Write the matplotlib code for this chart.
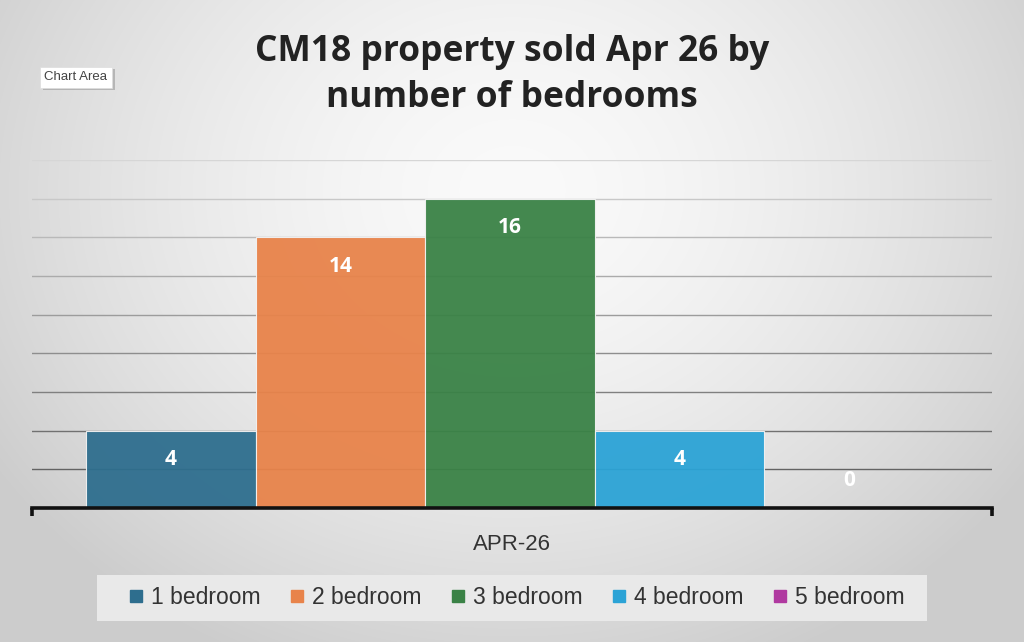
import numpy as np
import matplotlib
matplotlib.use("Agg")
import matplotlib.pyplot as plt
from matplotlib.lines import Line2D
from matplotlib.patches import Rectangle

# ---- data ----
title = "CM18 property sold Apr 26 by\nnumber of bedrooms"
category = "APR-26"
series_names = ["1 bedroom", "2 bedroom", "3 bedroom", "4 bedroom", "5 bedroom"]
series_values = [4, 14, 16, 4, 0]
series_colors = ["#2e6e8e", "#e8834a", "#3a8246", "#2ba3d6", "#b039a0"]

W, H, DPI = 1024, 642, 100
fig = plt.figure(figsize=(W / DPI, H / DPI), dpi=DPI)

# background radial gradient
bg = fig.add_axes([0, 0, 1, 1], zorder=-10)
yy, xx = np.mgrid[0:H, 0:W]
r = np.sqrt(((xx - 512) / 620.0) ** 2 + ((yy - 190) / 520.0) ** 2)
r = np.clip(r, 0, 1)
c0, c1 = 0.98, 0.80
val = c0 - (c0 - c1) * r ** 1.6
bg.imshow(np.dstack([val, val, val]), extent=[0, W, H, 0], aspect="auto")
bg.set_xlim(0, W)
bg.set_ylim(H, 0)
bg.axis("off")

# main axes
left, right, bottom_px, top_px = 32, 992, 508, 160
ax = fig.add_axes([left / W, (H - bottom_px) / H, (right - left) / W, (bottom_px - top_px) / H])
ax.set_facecolor("none")
ax.set_xlim(-0.5, 0.5)
ax.set_ylim(0, 18)

n = len(series_values)
bw = 848 / 5 / 960
for i, (name, v, col) in enumerate(zip(series_names, series_values, series_colors)):
    x = (i - (n - 1) / 2) * bw - 0.002
    ax.bar(x, v, width=bw, color=col, edgecolor="#f2f2f2", linewidth=0.8, zorder=3, alpha=0.95)
    off = -21 if v > 0 else 20
    ax.annotate(str(v), xy=(x, v), xytext=(0, off), textcoords="offset points",
                ha="center", va="center", color="white", fontsize=15, fontweight="bold",
                family="Open Sans", zorder=5)

# grid
ax.set_yticks(np.arange(0, 19, 2))
ax.yaxis.grid(True, linewidth=1.0, zorder=0)
ax.set_axisbelow(True)
ax.tick_params(axis="y", left=False, labelleft=False)
gls = ax.get_ygridlines()
vals = np.arange(0, 19, 2)
for gl, v in zip(gls, vals):
    t = v / 18.0
    g = 0.33 + (0.84 - 0.33) * t
    gl.set_color((g, g, g))

for s in ["left", "right", "top"]:
    ax.spines[s].set_visible(False)
ax.spines["bottom"].set_linewidth(2.6)
ax.spines["bottom"].set_color("#111111")
ax.spines["bottom"].set_zorder(6)

ax.set_xticks([0])
ax.set_xticklabels([category], fontsize=16, color="#333333", family="Liberation Sans")
ax.tick_params(axis="x", which="major", length=0, pad=19)
ax.set_xticks([-0.5, 0.5], minor=True)
ax.tick_params(axis="x", which="minor", length=6, width=2.6, color="#111111", direction="out")

# title
fig.text(0.5, 1 - 75 / H, title, ha="center", va="center", fontsize=25.5, fontweight="bold",
         color="#222222", family="Open Sans", linespacing=1.38)

# legend background + legend
fig.patches.append(Rectangle((97 / W, (H - 621) / H), 830 / W, 46 / H, transform=fig.transFigure,
                             facecolor="#e9e9e9", edgecolor="none", zorder=1))
handles = [Line2D([], [], marker="s", linestyle="none", markersize=9, color=c) for c in series_colors]
leg = fig.legend(handles, series_names, loc="center", bbox_to_anchor=(517 / W, (H - 598) / H),
                 ncol=5, frameon=False, prop={"family": "Liberation Sans", "size": 16.5},
                 handlelength=0.6, handletextpad=0.35, columnspacing=1.3)
for t in leg.get_texts():
    t.set_color("#333333")

# "Chart Area" tooltip
fig.patches.append(Rectangle((43 / W, (H - 90) / H), 72 / W, 21 / H, transform=fig.transFigure,
                             facecolor="#9a9a9a", edgecolor="none", alpha=0.6, zorder=2))
fig.patches.append(Rectangle((40 / W, (H - 88) / H), 72 / W, 21 / H, transform=fig.transFigure,
                             facecolor="white", edgecolor="#dddddd", linewidth=0.5, zorder=3))
fig.text(75 / W, 1 - 77.5 / H, "Chart Area", ha="center", va="center", fontsize=9.5,
         color="#444444", family="Liberation Sans", zorder=4)

fig.savefig("out.png", dpi=DPI)
